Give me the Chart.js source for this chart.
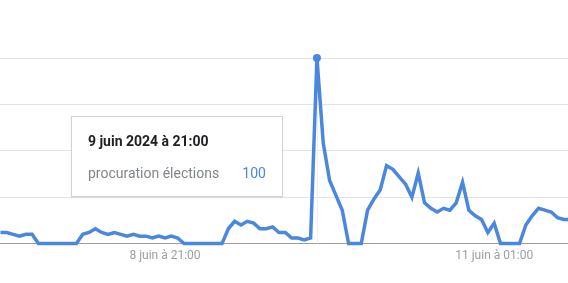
<!DOCTYPE html>
<html lang="fr">
<head>
<meta charset="utf-8">
<script src="https://cdn.jsdelivr.net/npm/chart.js@4.4.1/dist/chart.umd.min.js"></script>
<style>
  html, body { margin: 0; padding: 0; background: #fff; }
  #wrap { position: relative; width: 568px; height: 283px; }
  #tip {
    position: absolute; box-sizing: border-box; width: 212px; height: 81px;
    background: #fff; border: 1px solid #d2d2d2; box-shadow: 0 1px 2px rgba(0,0,0,0.06);
    font-family: Roboto, sans-serif; font-size: 14px;
  }
  #tip .title { position: absolute; left: 16px; top: 16px; font-weight: 700; color: #202124; }
  #tip .name { position: absolute; left: 16px; top: 48px; color: #80868b; }
  #tip .val { position: absolute; right: 16px; top: 48px; color: #4a87de; }
</style>
</head>
<body>
<div id="wrap">
  <canvas id="chart" width="568" height="283"></canvas>
  <div id="tip"><div class="title"></div><div class="name"></div><div class="val"></div></div>
</div>
<script>
const seriesName = 'procuration élections';
// valeurs horaires, du 7 juin 19:00 au 11 juin 05:00
const values = [
  6, 6, 5, 4, 5, 5, 0, 0, 0, 0, 0, 0, 0, 5, 6, 8, 6, 5, 6, 5, 4, 5, 4, 4, 3, 4,
  3, 4, 3, 0, 0, 0, 0, 0, 0, 0, 8, 12, 10, 12, 11, 8, 8, 9, 6, 6, 3, 3, 2, 3,
  100, 54, 34, 26, 18, 0, 0, 0, 18, 24, 29, 42, 40, 36, 32, 25, 38, 22, 19, 17, 19, 18, 22, 33,
  18, 15, 13, 6, 11, 0, 0, 0, 0, 10, 15, 19, 18, 17, 14, 13, 13
];
const tickAt = ['8 juin 2024 à 21:00', '11 juin 2024 à 01:00'];
const tickLabels = ['8 juin à 21:00', '11 juin à 01:00'];
const hoverLabel = '9 juin 2024 à 21:00';

const months = ['janv.', 'févr.', 'mars', 'avr.', 'mai', 'juin', 'juil.', 'août', 'sept.', 'oct.', 'nov.', 'déc.'];
const start = Date.UTC(2024, 5, 7, 19);
const categories = values.map((v, i) => {
  const d = new Date(start + i * 3600000);
  const hh = String(d.getUTCHours()).padStart(2, '0');
  return `${d.getUTCDate()} ${months[d.getUTCMonth()]} ${d.getUTCFullYear()} à ${hh}:00`;
});

const blue = '#4a87de';
const hoverIdx = categories.indexOf(hoverLabel);
const tickIdx = tickAt.map(t => categories.indexOf(t));

const hoverLine = {
  id: 'hoverLine',
  beforeDatasetsDraw(chart) {
    const pt = chart.getDatasetMeta(0).data[hoverIdx];
    const ctx = chart.ctx;
    ctx.save();
    ctx.strokeStyle = '#efefef';
    ctx.lineWidth = 1;
    ctx.beginPath();
    ctx.moveTo(Math.round(pt.x) + 0.5, chart.chartArea.top);
    ctx.lineTo(Math.round(pt.x) + 0.5, chart.chartArea.bottom);
    ctx.stroke();
    ctx.restore();
  }
};

const chart = new Chart(document.getElementById('chart'), {
  type: 'line',
  data: {
    datasets: [{
      label: seriesName,
      data: values.map((v, i) => ({ x: i, y: v })),
      borderColor: blue,
      borderWidth: 3.5,
      tension: 0,
      clip: false,
      pointRadius: ctx => ctx.dataIndex === hoverIdx ? 4 : 0,
      pointBackgroundColor: blue,
      pointBorderWidth: 0
    }]
  },
  options: {
    responsive: false,
    animation: false,
    events: [],
    layout: { padding: { top: 58, bottom: 15, left: 0, right: 0 } },
    plugins: { legend: { display: false }, tooltip: { enabled: false } },
    scales: {
      x: {
        type: 'linear',
        min: -0.07,
        max: 89.66,
        grid: { display: false, drawTicks: false },
        border: { display: true, color: '#9e9e9e' },
        afterBuildTicks: axis => { axis.ticks = tickIdx.map(v => ({ value: v })); },
        ticks: {
          padding: 5,
          autoSkip: false,
          maxRotation: 0,
          color: '#9aa0a6',
          font: { family: 'Roboto', size: 12 },
          callback: v => tickLabels[tickIdx.indexOf(v)]
        }
      },
      y: {
        min: 0,
        max: 100,
        ticks: { display: false, stepSize: 25 },
        grid: { drawTicks: false, color: ctx => ctx.tick.value === 0 ? '#9e9e9e' : '#e3e3e3' },
        border: { display: false }
      }
    }
  },
  plugins: [hoverLine]
});

const pt = chart.getDatasetMeta(0).data[hoverIdx];
const tip = document.getElementById('tip');
tip.querySelector('.title').textContent = categories[hoverIdx];
tip.querySelector('.name').textContent = seriesName;
tip.querySelector('.val').textContent = values[hoverIdx];
tip.style.left = (pt.x - 34 - 212) + 'px';
tip.style.top = (pt.y + 57.5) + 'px';
</script>
</body>
</html>
